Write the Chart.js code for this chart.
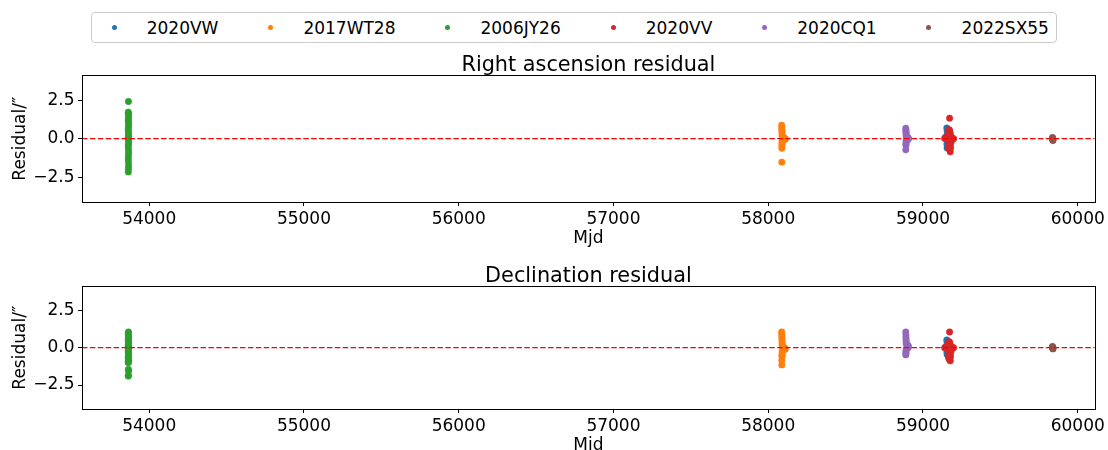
<!DOCTYPE html>
<html>
<head>
<meta charset="utf-8">
<script src="https://cdn.jsdelivr.net/npm/chart.js@4"></script>
<style>
  body { margin: 0; background: #fff; width: 1108px; height: 450px; overflow: hidden; position: relative; font-family: 'DejaVu Sans'; }
  canvas { position: absolute; left: 0; }
  #legend { position: absolute; left: 91px; top: 12px; height: 29px; border: 1px solid #cccccc; border-radius: 4px;
            display: flex; align-items: center; padding: 0 7px 0 19.5px; font-size: 17px; color: #000; white-space: nowrap; }
  .item { display: flex; align-items: center; }
  .item + .item { margin-left: 49.8px; }
  .dot { width: 5px; height: 5px; border-radius: 50%; margin-right: 30.2px; }
</style>
</head>
<body>
<div id="legend"></div>
<canvas id="ra" width="1108" height="209" style="top:46.6px"></canvas>
<canvas id="dec" width="1108" height="205" style="top:257.6px"></canvas>
<script>
const objectNames = ['2020VW', '2017WT28', '2006JY26', '2020VV', '2020CQ1', '2022SX55'];
const objectColors = ['#1f77b4', '#ff7f0e', '#2ca02c', '#d62728', '#9467bd', '#8c564b'];
const xTicks = [54000, 55000, 56000, 57000, 58000, 59000, 60000];
const yTicks = [-2.5, 0, 2.5];

// 2020VW
const mjd2020VW = [59154, 59156, 59157, 59158, 59156, 59159, 59157, 59155, 59158, 59156];
const ra2020VW  = [0.69, 0.5, 0.3, 0.15, 0.05, -0.05, -0.2, -0.35, -0.5, -0.6];
const dec2020VW = [0.52, 0.4, 0.28, 0.15, 0.05, -0.05, -0.15, -0.28, -0.38, -0.45];

// 2017WT28
const mjd2017WT28 = [58087, 58088, 58088, 58089, 58089, 58090, 58090, 58091, 58105, 58110, 58108, 58091, 58090, 58089, 58089, 58088, 58088];
const ra2017WT28  = [0.88, 0.75, 0.62, 0.5, 0.4, 0.3, 0.2, 0.12, 0.05, 0.0, -0.05, -0.12, -0.22, -0.32, -0.45, -0.62, -1.52];
const dec2017WT28 = [1.05, 0.9, 0.75, 0.6, 0.45, 0.3, 0.18, 0.08, 0.0, -0.05, -0.12, -0.22, -0.35, -0.5, -0.6, -0.85, -1.15];

// 2006JY26
const mjd2006JY26 = [53866, 53865, 53866, 53867, 53866, 53865, 53866, 53867, 53866, 53865, 53866, 53867, 53866,
                     53865, 53866, 53867, 53866, 53865, 53866, 53867, 53866, 53865, 53866, 53867, 53866, 53865];
const ra2006JY26  = [2.41, 1.72, 1.62, 1.5, 1.35, 1.2, 1.05, 0.9, 0.75, 0.6, 0.45, 0.3, 0.15,
                     0.05, -0.05, -0.2, -0.35, -0.5, -0.7, -0.9, -1.1, -1.3, -1.5, -1.75, -1.95, -2.15];
const dec2006JY26 = [1.05, 0.95, 0.85, 0.72, 0.6, 0.5, 0.4, 0.3, 0.2, 0.1, 0.02, -0.06, -0.15,
                     -0.25, -0.35, -0.45, -0.55, -0.65, -0.75, -0.85, -0.95, -1.0, -1.45, -1.55, -1.85, -1.9];

// 2020VV
const mjd2020VV = [59172, 59170, 59165, 59172, 59168, 59174, 59171, 59166, 59176, 59168, 59178, 59160, 59145, 59190, 59140, 59198, 59185,
                   59155, 59165, 59180, 59175, 59183, 59172, 59166, 59170, 59176, 59168, 59174, 59172, 59178, 59166, 59170, 59174, 59176];
const ra2020VV  = [1.33, 0.58, 0.55, 0.5, 0.45, 0.42, 0.35, 0.3, 0.28, 0.22, 0.2, 0.12, 0.08, 0.04, 0.02, 0.0, 0.0,
                   -0.02, -0.04, -0.08, -0.12, -0.18, -0.25, -0.28, -0.3, -0.35, -0.4, -0.42, -0.5, -0.58, -0.62, -0.65, -0.72, -0.85];
const dec2020VV = [1.05, 0.4, 0.36, 0.33, 0.3, 0.27, 0.2, 0.17, 0.15, 0.12, 0.1, 0.06, 0.03, 0.01, 0.0, 0.0, -0.01,
                   -0.03, -0.06, -0.1, -0.15, -0.2, -0.25, -0.28, -0.3, -0.38, -0.42, -0.45, -0.52, -0.6, -0.67, -0.75, -0.82, -0.88];

// 2020CQ1
const mjd2020CQ1 = [58889, 58890, 58890, 58891, 58891, 58892, 58903, 58906, 58904, 58892, 58891, 58890, 58890, 58889];
const ra2020CQ1  = [0.68, 0.55, 0.45, 0.35, 0.25, 0.15, 0.08, 0.02, -0.05, -0.12, -0.22, -0.32, -0.42, -0.72];
const dec2020CQ1 = [1.05, 0.85, 0.68, 0.52, 0.38, 0.25, 0.15, 0.08, 0.0, -0.08, -0.18, -0.28, -0.38, -0.48];

// 2022SX55
const mjd2022SX55 = [59837, 59838, 59838, 59839, 59839, 59840];
const ra2022SX55  = [0.08, 0.04, 0.0, -0.04, -0.08, -0.12];
const dec2022SX55 = [0.08, 0.04, 0.01, -0.02, -0.05, -0.08];

const mjdList = [mjd2020VW, mjd2017WT28, mjd2006JY26, mjd2020VV, mjd2020CQ1, mjd2022SX55];
const raList = [ra2020VW, ra2017WT28, ra2006JY26, ra2020VV, ra2020CQ1, ra2022SX55];
const decList = [dec2020VW, dec2017WT28, dec2006JY26, dec2020VV, dec2020CQ1, dec2022SX55];

const xMin = 53566, xMax = 60110;
const yMin = -4.1, yMax = 4.1;
const zeroLevel = 0;

Chart.defaults.font.family = "'DejaVu Sans'";
Chart.defaults.color = '#000';

// legend
const legend = document.getElementById('legend');
objectNames.forEach((name, i) => {
    const item = document.createElement('div');
    item.className = 'item';
    item.innerHTML = '<span class="dot" style="background:' + objectColors[i] + '"></span><span>' + name + '</span>';
    legend.appendChild(item);
});

// full box around the plot area
const frame = {
    id: 'frame',
    afterDraw(chart) {
        const a = chart.chartArea, g = chart.ctx;
        g.save();
        g.strokeStyle = '#000';
        g.lineWidth = 1;
        g.strokeRect(Math.round(a.left) + 0.5, Math.round(a.top) + 0.5, Math.round(a.right - a.left), Math.round(a.bottom - a.top));
        g.restore();
    }
};

function makeChart(id, title, resid) {
    const datasets = objectNames.map((name, i) => ({
        type: 'scatter',
        label: name,
        data: mjdList[i].map((m, k) => ({ x: m, y: resid[i][k] })),
        backgroundColor: objectColors[i],
        borderColor: objectColors[i],
        borderWidth: 0.6,
        pointRadius: 3.2,
        order: objectNames.length - i
    }));
    datasets.push({
        type: 'line',
        label: 'zero',
        data: [{ x: xMin, y: zeroLevel }, { x: xMax, y: zeroLevel }],
        borderColor: '#ff0000',
        borderWidth: 1.3,
        borderDash: [5.5, 2.4],
        pointRadius: 0,
        order: 0
    });

    return new Chart(document.getElementById(id), {
        type: 'scatter',
        data: { datasets: datasets },
        options: {
            responsive: false,
            animation: false,
            devicePixelRatio: 1,
            layout: { padding: { left: 0, right: 11, top: 0, bottom: 0 } },
            plugins: {
                legend: { display: false },
                tooltip: { enabled: false },
                title: { display: true, fullSize: false, text: title, font: { size: 20.8, weight: 'normal', lineHeight: 1 },
                         color: '#000', padding: { top: 8, bottom: -0.4 } }
            },
            scales: {
                x: {
                    type: 'linear', min: xMin, max: xMax,
                    afterBuildTicks: s => { s.ticks = xTicks.map(v => ({ value: v })); },
                    afterFit: s => { s.height = 54; },
                    ticks: { callback: v => String(v), font: { size: 17 }, color: '#000', padding: 3, maxRotation: 0, autoSkip: false },
                    grid: { drawOnChartArea: false, drawTicks: true, tickLength: 4, color: '#000' },
                    border: { display: false },
                    title: { display: true, text: 'Mjd', font: { size: 17 }, color: '#000', padding: { top: 0, bottom: 7 } }
                },
                y: {
                    min: yMin, max: yMax,
                    afterBuildTicks: s => { s.ticks = yTicks.map(v => ({ value: v })); },
                    afterFit: s => { s.width = 82; },
                    ticks: { callback: v => (v < 0 ? '\u2212' : '') + Math.abs(v).toFixed(1), font: { size: 17 }, color: '#000', padding: 3.5 },
                    grid: { drawOnChartArea: false, drawTicks: true, tickLength: 4, color: '#000' },
                    border: { display: false },
                    title: { display: true, text: 'Residual/\u2033', font: { size: 17 }, color: '#000', padding: { top: 10, bottom: 0 } }
                }
            }
        },
        plugins: [frame]
    });
}

makeChart('ra', 'Right ascension residual', raList);
makeChart('dec', 'Declination residual', decList);
</script>
</body>
</html>
